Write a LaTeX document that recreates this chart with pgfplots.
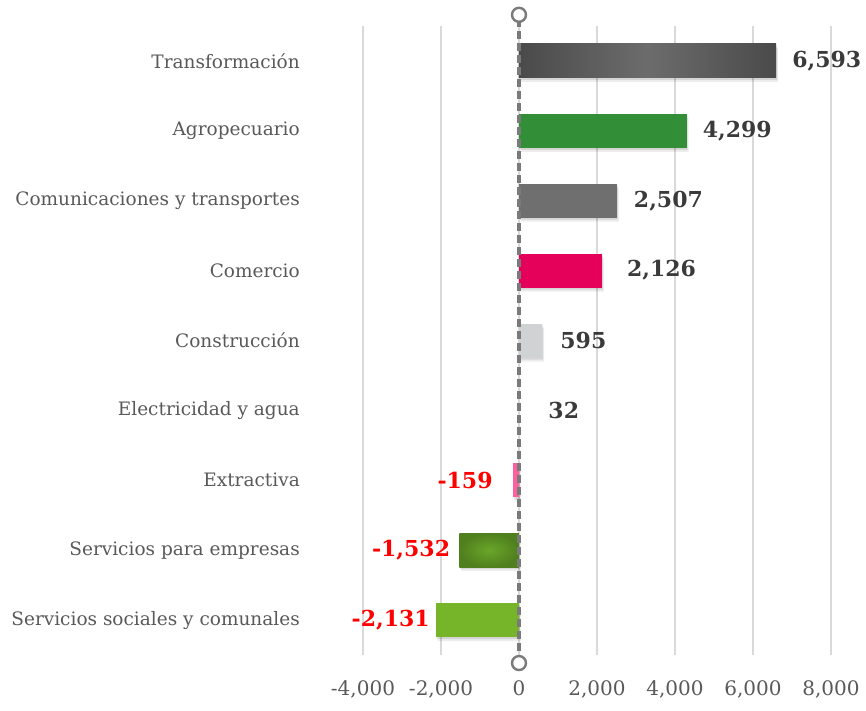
\documentclass[border=0pt]{standalone}
\usepackage{pgfplots}
\pgfplotsset{compat=1.18}
\usepackage{fontspec}
\setmainfont{DejaVu Serif}
\definecolor{cTrD}{HTML}{4A4A4A}
\definecolor{cTrL}{HTML}{6C6C6C}
\definecolor{cAgro}{HTML}{338E38}
\definecolor{cCom}{HTML}{6F6F6F}
\definecolor{cComer}{HTML}{E5005A}
\definecolor{cCons}{HTML}{D0D3D4}
\definecolor{cElec}{HTML}{D9D9D9}
\definecolor{cExt}{HTML}{FF5FA0}
\definecolor{cSeEmL}{HTML}{6AA629}
\definecolor{cSeEmD}{HTML}{4F7F1E}
\definecolor{cSoc}{HTML}{76B52A}
\definecolor{labpos}{HTML}{3A3A3A}
\definecolor{labtxt}{HTML}{595959}
\definecolor{gridc}{HTML}{D9D9D9}
\definecolor{zeroc}{HTML}{7A7A7A}
\begin{document}
\begin{tikzpicture}
\begin{axis}[
  scale only axis,
  width=468pt, height=629pt,
  xmin=-4000, xmax=8000,
  ymin=-0.5, ymax=8.5,
  clip=false,
  axis line style={draw=none},
  major tick length=0pt,
  xtick={-4000,-2000,0,2000,4000,6000,8000},
  xmajorgrids,
  grid style={gridc, line width=1.3pt},
  ytick={0,1,2,3,4,5,6,7,8},
  yticklabels={Servicios sociales y comunales, Servicios para empresas, Extractiva, Electricidad y agua, Construcción, Comercio, Comunicaciones y transportes, Agropecuario, Transformación},
  yticklabel style={anchor=east, inner sep=0pt, xshift=-63pt, font=\fontsize{18.5}{22}\selectfont, text=labtxt},
  xticklabel style={anchor=north, inner sep=0pt, yshift=-25pt, font=\fontsize{20}{24}\selectfont, text=labtxt},
  /pgf/number format/.cd, 1000 sep={,}, assume math mode=true,
  /pgfplots/.cd,
  xbar, bar width=34pt, bar shift=0pt,
  point meta=x,
  nodes near coords,
  nodes near coords style={font=\bfseries\fontsize{22}{26}\selectfont, inner sep=0pt},
]
\coordinate (sw) at (rel axis cs:0,0);
% soft shadows under the bars
\addplot[draw=none, fill=black, opacity=0.10, xshift=1pt, yshift=-2pt, nodes near coords={}]
  coordinates {(6593,8) (4299,7) (2507,6) (2126,5) (595,4) (-159,2) (-1532,1) (-2131,0)};
\addplot[draw=none, fill=black, opacity=0.07, xshift=2pt, yshift=-4pt, nodes near coords={}]
  coordinates {(6593,8) (4299,7) (2507,6) (2126,5) (595,4) (-159,2) (-1532,1) (-2131,0)};
% Transformacion
\addplot[draw=none, left color=cTrD, right color=cTrD, middle color=cTrL,
  every node near coord/.append style={anchor=west, xshift=16pt, text=labpos}]
  coordinates {(6593,8)};
% Agropecuario
\addplot[draw=none, fill=cAgro,
  every node near coord/.append style={anchor=west, xshift=16pt, text=labpos}]
  coordinates {(4299,7)};
% Comunicaciones
\addplot[draw=none, fill=cCom,
  every node near coord/.append style={anchor=west, xshift=17pt, text=labpos}]
  coordinates {(2507,6)};
% Comercio
\addplot[draw=none, fill=cComer,
  every node near coord/.append style={anchor=west, xshift=25pt, text=labpos}]
  coordinates {(2126,5)};
% Construccion
\addplot[draw=none, fill=cCons,
  every node near coord/.append style={anchor=west, xshift=18pt, text=labpos}]
  coordinates {(595,4)};
% Electricidad
\addplot[draw=none, fill=cElec,
  every node near coord/.append style={anchor=west, xshift=28pt, text=labpos}]
  coordinates {(32,3)};
% Extractiva
\addplot[draw=none, fill=cExt,
  every node near coord/.append style={anchor=east, xshift=-20pt, text=red}]
  coordinates {(-159,2)};
% Servicios para empresas
\addplot[draw=none, shading=radial, inner color=cSeEmL, outer color=cSeEmD,
  every node near coord/.append style={anchor=east, xshift=-9pt, text=red}]
  coordinates {(-1532,1)};
% Servicios sociales
\addplot[draw=none, fill=cSoc,
  every node near coord/.append style={anchor=east, xshift=-6pt, text=red}]
  coordinates {(-2131,0)};
% zero line
\addplot[sharp plot, nodes near coords={}, draw=zeroc, line width=3.5pt, dash pattern=on 8pt off 4pt,
  mark=*, mark size=7pt, mark options={solid, fill=white, draw=zeroc, line width=2.4pt}]
  coordinates {(0,-0.615) (0,8.66)};
\end{axis}
\pgfresetboundingbox
\path[use as bounding box] ([shift={(-363pt,-55pt)}]sw) rectangle ([shift={(503pt,655pt)}]sw);
\end{tikzpicture}
\end{document}
